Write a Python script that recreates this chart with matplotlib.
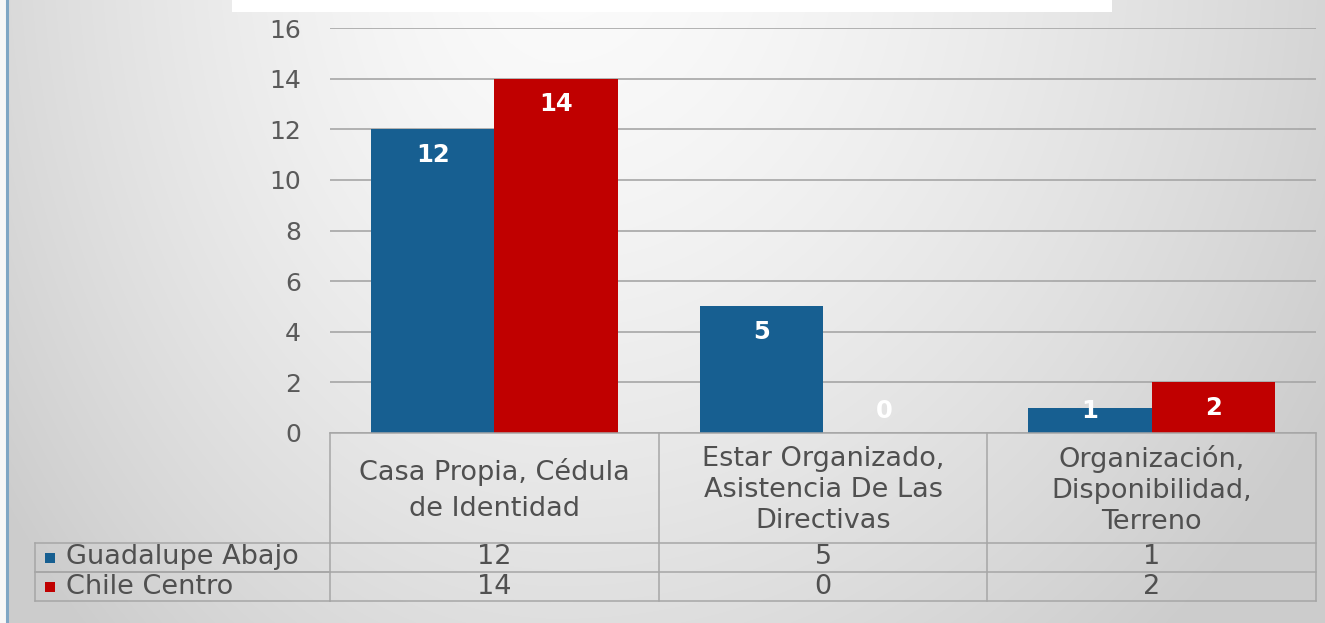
import numpy as np
import matplotlib
matplotlib.use("Agg")
import matplotlib.pyplot as plt
from matplotlib.patches import Rectangle

categories = ["Casa Propia, Cédula\nde Identidad",
              "Estar Organizado,\nAsistencia De Las\nDirectivas",
              "Organización,\nDisponibilidad,\nTerreno"]
series_names = ["Guadalupe Abajo", "Chile Centro"]
guadalupe = [12, 5, 1]
chile = [14, 0, 2]
yticks = [0, 2, 4, 6, 8, 10, 12, 14, 16]
colors = ["#175f91", "#c00000"]

FONT = "DejaVu Sans"
W, H = 1325, 623
fig = plt.figure(figsize=(W / 100, H / 100), dpi=100)

# background gradient
bg = fig.add_axes([0, 0, 1, 1])
yy, xx = np.mgrid[0:H, 0:W]
dx = xx - 560.0
sx = np.where(dx < 0, 620.0, 790.0)
d = np.sqrt((dx / sx) ** 2 + ((yy + 60) / 850.0) ** 2)
v = np.clip(0.985 - 0.155 * d ** 1.5, 0.80, 1)
v[:, :6] = 0.97
bg.imshow(np.dstack([v, v, v]), extent=[0, W, H, 0], aspect="auto", zorder=0)
bg.set_xlim(0, W)
bg.set_ylim(H, 0)
bg.axis("off")
# left blue border line
bg.plot([7, 7], [0, H], color="#7fa6c4", lw=2.2, zorder=2)
# white title box
bg.add_patch(Rectangle((232, -5), 880, 17, facecolor="white", edgecolor="none", zorder=3))

# main bar axes
x0, x1 = 330, 1316
ytop, ybot = 28, 433
ax = fig.add_axes([x0 / W, 1 - ybot / H, (x1 - x0) / W, (ybot - ytop) / H])
ax.set_facecolor("none")
ax.set_xlim(-0.5, len(categories) - 0.5)
ax.set_ylim(0, 16)
x = np.arange(len(categories))
bw = 0.375
for i, (vals, col) in enumerate(zip([guadalupe, chile], colors)):
    pos = x + (i - 0.5) * bw
    ax.bar(pos, vals, width=bw, color=col, edgecolor="none", zorder=3)
    for p, val in zip(pos, vals):
        ax.text(p, max(val - 1.0, 0.85), str(val), ha="center", va="center",
                color="white", fontsize=17.5, fontweight="bold", family=FONT, zorder=4)
ax.set_yticks(yticks)
ax.set_yticklabels([str(t) for t in yticks], fontsize=18, color="#5a5a5a", family=FONT)
ax.tick_params(axis="y", length=0, pad=21)
ax.tick_params(axis="x", length=0, labelbottom=False)
ax.grid(axis="y", color="#a6a6a6", lw=1.2, zorder=1)
for s in ax.spines.values():
    s.set_visible(False)

# data table
row_h = [110, 29, 29]
tab_bot = ybot + sum(row_h)
axt = fig.add_axes([x0 / W, 1 - tab_bot / H, (x1 - x0) / W, sum(row_h) / H])
axt.set_facecolor("none")
axt.set_xlim(-0.5, len(categories) - 0.5)
axt.set_ylim(sum(row_h), 0)
axt.axis("off")
lc = "#a6a6a6"
tfs = 19.5
tc = "#505050"
ycut = np.cumsum([0] + row_h)
for k, yv in enumerate(ycut):
    axt.plot([-0.5, len(categories) - 0.5], [yv, yv], color=lc, lw=1.1, clip_on=False)
for k in range(len(categories) + 1):
    axt.plot([k - 0.5, k - 0.5], [0, ycut[-1]], color=lc, lw=1.1, clip_on=False)
for i, cat in enumerate(categories):
    nl = cat.count("\n") + 1
    axt.text(i, row_h[0] / 2 + 2, cat, ha="center", va="center", fontsize=tfs,
             color=tc, family=FONT, linespacing=1.55 if nl == 2 else 1.27)
    for r, vals in enumerate([guadalupe, chile]):
        axt.text(i, ycut[r + 1] + row_h[r + 1] / 2, str(vals[i]), ha="center", va="center",
                 fontsize=tfs, color=tc, family=FONT)

# legend column (pixel coordinates)
lx0 = 35
for r in range(2):
    ya, yb = ycut[r + 1] + ybot, ycut[r + 2] + ybot
    bg.plot([lx0, x0], [ya, ya], color=lc, lw=1.1, zorder=2)
    bg.plot([lx0, x0], [yb, yb], color=lc, lw=1.1, zorder=2)
bg.plot([lx0, lx0], [ycut[1] + ybot, ycut[3] + ybot], color=lc, lw=1.1, zorder=2)
for r, (name, col) in enumerate(zip(series_names, colors)):
    yc = ybot + ycut[r + 1] + row_h[r + 1] / 2
    bg.add_patch(Rectangle((45, yc - 5), 10, 10, facecolor=col, edgecolor="none", zorder=3))
    bg.text(66, yc, name, ha="left", va="center", fontsize=tfs, color=tc,
            family=FONT, zorder=3)

fig.savefig("out.png", dpi=100)
